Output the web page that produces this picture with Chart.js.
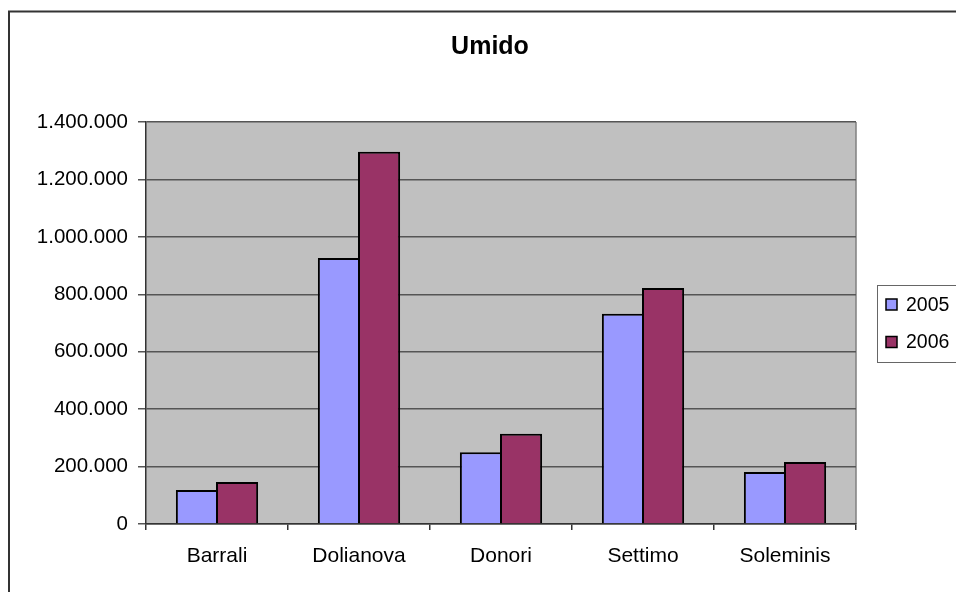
<!DOCTYPE html>
<html>
<head>
<meta charset="utf-8">
<title>Umido</title>
<script src="https://cdn.jsdelivr.net/npm/chart.js@4.4.0/dist/chart.umd.min.js"></script>
<style>
  html, body { margin: 0; padding: 0; background: #fff; overflow: hidden; }
  canvas { display: block; }
</style>
</head>
<body>
<canvas id="chart-umido" width="956" height="592"></canvas>
<script>
// ── data ──
const categories = ['Barrali', 'Dolianova', 'Donori', 'Settimo', 'Soleminis'];
const seriesNames = ['2005', '2006'];
const values2005 = [118000, 926000, 250000, 732000, 181000];
const values2006 = [146000, 1296000, 314000, 822000, 216000];
const yTickLabels = ['0', '200.000', '400.000', '600.000', '800.000', '1.000.000', '1.200.000', '1.400.000'];

const FONT = "'Liberation Sans', Arial, sans-serif";

// grey plot area + right edge
const plotBg = {
  id: 'plotBg',
  beforeDraw(chart) {
    const { ctx, chartArea: a } = chart;
    ctx.save();
    ctx.fillStyle = '#c0c0c0';
    ctx.fillRect(a.left, a.top, a.right - a.left, a.bottom - a.top);
    ctx.strokeStyle = '#808080';
    ctx.lineWidth = 1.5;
    ctx.beginPath();
    ctx.moveTo(a.right, a.top);
    ctx.lineTo(a.right, a.bottom);
    ctx.stroke();
    ctx.restore();
  }
};

// outer frame (cut off at right/bottom like the source) + boxed legend
const frameLegend = {
  id: 'frameLegend',
  afterDraw(chart) {
    const { ctx, chartArea: a } = chart;
    ctx.save();
    ctx.strokeStyle = '#333';
    ctx.lineWidth = 2;
    ctx.beginPath();
    ctx.moveTo(9, chart.height + 2);
    ctx.lineTo(9, 11.5);
    ctx.lineTo(chart.width + 2, 11.5);
    ctx.stroke();

    const cy = (a.top + a.bottom) / 2;
    const bx = 877.5, by = Math.round(cy - 38.5) + 0.5;
    ctx.strokeStyle = '#666';
    ctx.lineWidth = 1;
    ctx.strokeRect(bx, by, 120, 77);

    ctx.font = `19.5px ${FONT}`;
    ctx.textBaseline = 'middle';
    chart.data.datasets.forEach((ds, i) => {
      const rowY = cy - 18.5 + i * 37.5;
      ctx.fillStyle = ds.backgroundColor;
      ctx.fillRect(886, rowY - 5.5, 11, 11);
      ctx.strokeStyle = '#000';
      ctx.lineWidth = 1.5;
      ctx.strokeRect(886, rowY - 5.5, 11, 11);
      ctx.fillStyle = '#000';
      ctx.fillText(ds.label, 906, rowY + 1);
    });
    ctx.restore();
  }
};

new Chart(document.getElementById('chart-umido'), {
  type: 'bar',
  data: {
    labels: categories,
    datasets: [
      { label: seriesNames[0], data: values2005, backgroundColor: '#9999ff' },
      { label: seriesNames[1], data: values2006, backgroundColor: '#993366' },
    ]
  },
  options: {
    responsive: false,
    devicePixelRatio: 1,
    animation: false,
    layout: { padding: { left: 24, right: 0, top: 0, bottom: 0 } },
    datasets: {
      bar: {
        borderColor: '#000',
        borderWidth: 2,
        categoryPercentage: 0.565,
        barPercentage: 1.05,
      }
    },
    plugins: {
      legend: { display: false },
      tooltip: { enabled: false },
      title: {
        display: true,
        text: 'Umido',
        color: '#000',
        font: { family: FONT, size: 25, weight: 'bold', lineHeight: 1.2 },
        padding: { top: 32, bottom: 60 },
      },
    },
    scales: {
      x: {
        afterFit: s => { s.height = 68; },
        grid: { drawOnChartArea: false, drawTicks: true, tickLength: 6, color: '#333', lineWidth: 1.5 },
        border: { display: true, color: '#333', width: 1.5 },
        ticks: { color: '#000', padding: 14, font: { family: FONT, size: 21 } },
      },
      y: {
        min: 0, max: 1400000,
        afterFit: s => { s.width = 122; },
        grid: { color: '#555', lineWidth: 1.5, tickLength: 8 },
        border: { display: true, color: '#333', width: 1.5 },
        ticks: {
          stepSize: 200000,
          color: '#000',
          padding: 10,
          font: { family: FONT, size: 20.5 },
          callback: (v, i) => yTickLabels[i],
        },
      },
      // empty strip on the right that holds the legend
      legendSpace: {
        type: 'linear',
        position: 'right',
        min: 0, max: 1,
        afterFit: s => { s.width = 100; },
        grid: { display: false },
        border: { display: false },
        ticks: { display: false },
      }
    }
  },
  plugins: [plotBg, frameLegend]
});
</script>
</body>
</html>
